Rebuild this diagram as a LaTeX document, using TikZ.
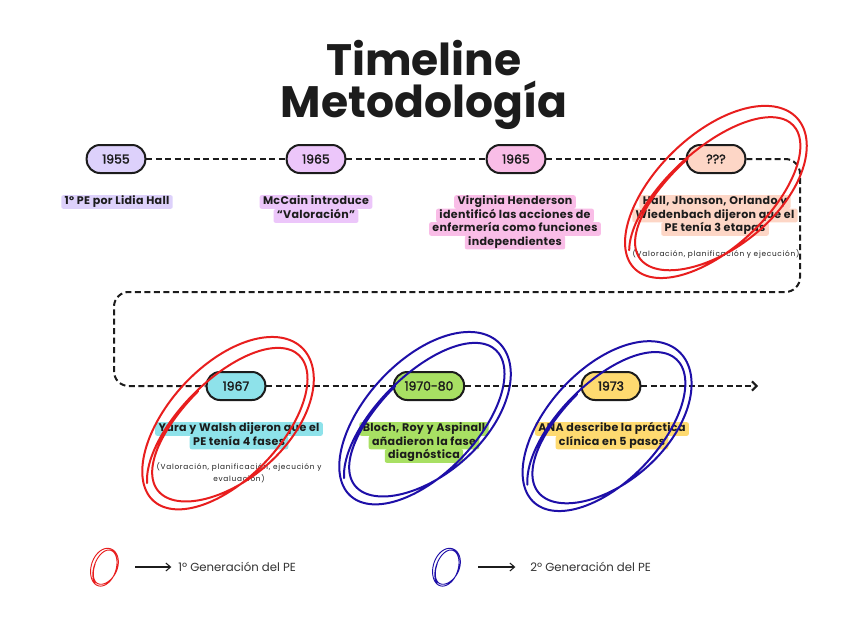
\documentclass[tikz,border=0pt]{standalone}
\usepackage{fontspec}
\setmainfont{Poppins}
\newfontfamily\pillfont[FakeBold=2]{Poppins}
\newfontfamily\labfont[LetterSpace=3]{Poppins Bold}
\newfontfamily\spacedfont[LetterSpace=10]{Poppins}
\usetikzlibrary{arrows.meta}
\definecolor{ink}{HTML}{1C1C1C}
\definecolor{cA}{HTML}{DDD1FB}
\definecolor{cB}{HTML}{ECC6FA}
\definecolor{cC}{HTML}{F9BDE7}
\definecolor{cD}{HTML}{FDD6C6}
\definecolor{cE}{HTML}{8EE2EA}
\definecolor{cF}{HTML}{A8E063}
\definecolor{cG}{HTML}{FEDA70}
\definecolor{scR}{HTML}{E81E1E}
\definecolor{scB}{HTML}{1E0FA8}
\newcommand\scrib[7]{%
  \draw[#1, line width=#7, line cap=round, rotate around={#4:(#2,#3)}]
    plot[smooth, domain=200:990, samples=150, variable=\t]
    ({#2+(#5*(1+0.07*sin(0.75*\t)))*cos(\t)}, {#3+(#6*(1+0.14*cos(0.55*\t)))*sin(\t)});
}
\tikzset{
  pill/.style={rectangle, rounded corners=10pt, draw=ink, line width=1.5pt, minimum width=44pt,
    minimum height=21pt, inner xsep=8pt, text=ink, font=\pillfont\fontsize{9.3}{10}\selectfont},
  lab/.style={rounded corners=1.5pt, inner xsep=2.5pt, inner ysep=1pt, text height=6.2pt,
    text depth=2pt, text=ink, font=\labfont\fontsize{8.3}{9}\selectfont},
  note/.style={inner sep=0pt, text=ink, font=\spacedfont\fontsize{5.5}{6}\selectfont},
  dline/.style={draw=ink, line width=1.5pt, dash pattern=on 4.5pt off 2.6pt},
  legtext/.style={inner sep=0pt, anchor=west, text=ink!90, font=\fontsize{8.8}{10}\selectfont},
  legarrow/.style={draw=ink, line width=0.8pt, -{Straight Barb[length=3.5pt,width=6pt]}}
}
\begin{document}
\begin{tikzpicture}[x=0.75pt,y=-0.75pt]
\useasboundingbox[fill=white] (0,0) rectangle (848,636);
% title
\node[anchor=base, inner sep=0pt, font=\bfseries\fontsize{33}{34}\selectfont, text=ink] (title1) at (424,75) {Timeline};
\node[anchor=base, inner sep=0pt, font=\bfseries\fontsize{33}{34}\selectfont, text=ink] (title2) at (424,117) {Metodología};
% pills
\node[pill, fill=cA] (p1) at (116,159) {1955};
\node[pill, fill=cB] (p2) at (316,159) {1965};
\node[pill, fill=cC] (p3) at (516,159) {1965};
\node[pill, fill=cD] (p4) at (716,159) {???};
\node[pill, fill=cE] (q1) at (236,386) {1967};
\node[pill, fill=cF] (q2) at (429,386) {1970-80};
\node[pill, fill=cG] (q3) at (611,386) {1973};
% connectors
\coordinate (c1) at (800,159);
\coordinate (c2) at (800,292);
\coordinate (c3) at (114,292);
\coordinate (c4) at (114,386);
\coordinate (aend) at (758,386);
\draw[dline] (p1.east) -- (p2.west);
\draw[dline] (p2.east) -- (p3.west);
\draw[dline] (p3.east) -- (p4.west);
\draw[dline, rounded corners=11pt] (p4.east) -- (c1) -- (c2) -- (c3) -- (c4) -- (q1.west);
\draw[dline] (q1.east) -- (q2.west);
\draw[dline] (q2.east) -- (q3.west);
\draw[dline, -{Straight Barb[length=3.5pt,width=7pt,line width=1.5pt]}] (q3.east) -- (aend);
% labels
\node[lab, fill=cA] (l1a) at (117,202) {1º PE por Lidia Hall};
\node[lab, fill=cB] (l2a) at (316,202) {McCain introduce};
\node[lab, fill=cB] (l2b) at (316,216) {“Valoración”};
\node[lab, fill=cC] (l3a) at (515,202) {Virginia Henderson};
\node[lab, fill=cC] (l3b) at (515,215.5) {identificó las acciones de};
\node[lab, fill=cC] (l3c) at (515,229) {enfermería como funciones};
\node[lab, fill=cC] (l3d) at (515,242.5) {independientes};
\node[lab, fill=cD] (l4a) at (715,202) {Hall, Jhonson, Orlando y};
\node[lab, fill=cD] (l4b) at (715,215.5) {Wiedenbach dijeron que el};
\node[lab, fill=cD] (l4c) at (715,229) {PE tenía 3 etapas};
\node[note] (n4) at (716,254) {(Valoración, planificación y ejecución)};
\node[lab, fill=cE] (l5a) at (239,429) {Yura y Walsh dijeron que el};
\node[lab, fill=cE] (l5b) at (239,442.5) {PE tenía 4 fases};
\node[note] (n5a) at (239,467) {(Valoración, planificación, ejecución y};
\node[note] (n5b) at (239,479) {evaluación)};
\node[lab, fill=cF] (l6a) at (424,429) {Bloch, Roy y Aspinall};
\node[lab, fill=cF] (l6b) at (424,442.5) {añadieron la fase};
\node[lab, fill=cF] (l6c) at (424,456) {diagnóstica};
\node[lab, fill=cG] (l7a) at (612,429) {ANA describe la práctica};
\node[lab, fill=cG] (l7b) at (612,442.5) {clínica en 5 pasos};
% legend
\coordinate (la1) at (135,567);
\node[legtext] (lt1) at (178,567) {1º Generación del PE};
\draw[legarrow, shorten >=5pt] (la1) -- (lt1.west);
\coordinate (la2) at (478,567);
\node[legtext] (lt2) at (530,567) {2º Generación del PE};
\draw[legarrow, shorten >=11pt] (la2) -- (lt2.west);
% scribbles
\scrib{scR}{719}{193}{42}{108}{54}{1.5pt}
\scrib{scR}{231}{424}{45}{104}{54}{1.5pt}
\scrib{scB}{428}{419}{45}{104}{54}{1.5pt}
\scrib{scB}{610}{427}{45}{102}{54}{1.5pt}
\scrib{scR}{105}{567}{70}{19}{12}{0.7pt}
\scrib{scB}{447}{567}{70}{19}{12}{0.7pt}
\end{tikzpicture}
\end{document}
